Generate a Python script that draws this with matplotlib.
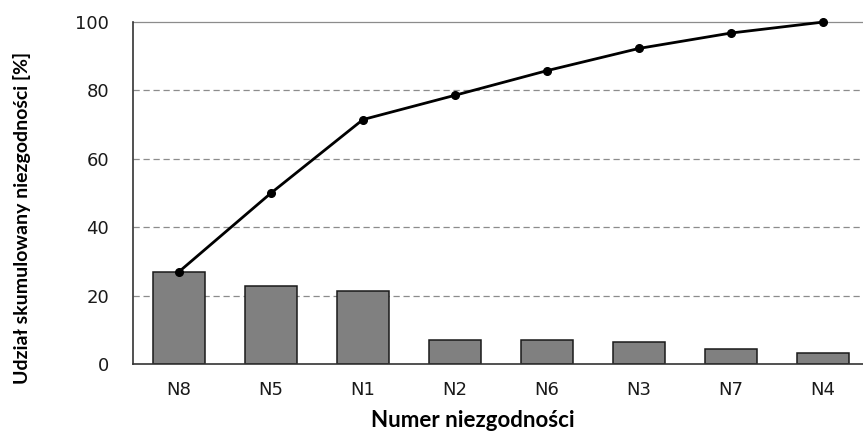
import matplotlib.pyplot as plt
import numpy as np

# Pareto data
categories = ['N8', 'N5', 'N1', 'N2', 'N6', 'N3', 'N7', 'N4']
share = [27.0, 22.8, 21.3, 7.1, 7.1, 6.6, 4.5, 3.3]
cumulative = [27.0, 50.0, 71.5, 78.6, 85.8, 92.3, 96.8, 100.0]
y_ticks = [0, 20, 40, 60, 80, 100]

fig = plt.figure(figsize=(8.63, 4.33), dpi=100)
ax = fig.add_axes([0.154, 0.159, 0.853, 0.79])

x = np.arange(len(categories))

# Grid lines
for t in y_ticks[1:-1]:
    ax.axhline(t, color='#8c8c8c', linestyle=(0, (5, 3)), linewidth=0.9, zorder=0)
ax.axhline(100, color='#8c8c8c', linewidth=0.9, zorder=0, clip_on=False)

# Bars and cumulative line
ax.bar(x, share, width=0.56, color='#808080', edgecolor='#1a1a1a', linewidth=1.1, zorder=2)
ax.plot(x, cumulative, color='black', linewidth=2, marker='o', markersize=5.5, zorder=3,
        clip_on=False)

ax.set_xlim(-0.5, 7.5)
ax.set_ylim(0, 100)
ax.set_yticks(y_ticks)
ax.set_xticks(x)
ax.set_xticklabels(categories)
ax.tick_params(length=0, labelsize=13, colors='#1a1a1a')
ax.tick_params(axis='y', pad=17)
ax.tick_params(axis='x', pad=12)

for s in ['top', 'right']:
    ax.spines[s].set_visible(False)
for s in ['left', 'bottom']:
    ax.spines[s].set_color('#333333')
    ax.spines[s].set_linewidth(1.2)

fig.text(0.026, 0.497, 'Udział skumulowany niezgodności [%]', rotation=90, ha='center', va='center',
         fontsize=14, fontweight='bold', family='Lato')
fig.text(0.548, 0.004, 'Numer niezgodności', ha='center', va='bottom',
         fontsize=16, fontweight='bold', family='Lato')

fig.savefig('out.png', dpi=100)
